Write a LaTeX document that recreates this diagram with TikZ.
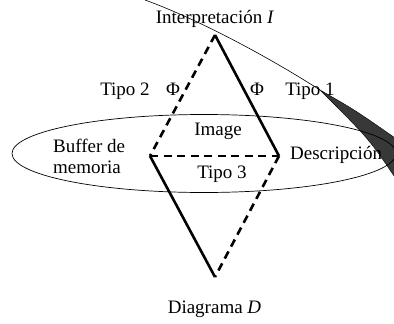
\documentclass[tikz,border=0pt]{standalone}
\usepackage{fontspec}
\setmainfont{Liberation Serif}
\begin{document}
\begin{tikzpicture}[x=1pt, y=-1pt, font=\fontsize{19}{21}\selectfont,
  lado/.style={line width=2.6pt},
  ladodash/.style={line width=2.6pt, dash pattern=on 8pt off 5.5pt},
  txt/.style={inner sep=0pt, anchor=base}]
  \useasboundingbox (0,0) rectangle (394,324);
  \clip (0,0) rectangle (394,324);

  % curva y cono
  \draw[line width=0.6pt] (145,0) .. controls (200,20) and (270,58) .. (320,90);
  \filldraw[fill=black!78, line width=0.4pt] (320,90) .. controls (355,110) .. (398,140)
    -- (398,182) .. controls (370,140) .. (320,90) -- cycle;

  % elipse
  \draw[line width=0.7pt] (204,153.5) ellipse [x radius=192, y radius=39];

  % vertices
  \coordinate (I) at (215,35);
  \coordinate (B) at (150,156);
  \coordinate (R) at (279,156);
  \coordinate (D) at (215,277);

  % lados
  \draw[ladodash] (I) -- (B);
  \draw[lado] (I) -- (R);
  \draw[ladodash] (B) -- (R);
  \draw[lado] (B) -- (D);
  \draw[ladodash] (R) -- (D);

  % textos
  \node[txt] (interp) at (215,23.5) {Interpretación \textit{I}};
  \node[txt] (tipo2) at (125,95) {Tipo 2};
  \node[txt] (phi2) at (173,95) {Φ};
  \node[txt] (phi1) at (257,95) {Φ};
  \node[txt] (tipo1) at (310,95) {Tipo 1};
  \node[txt] (image) at (218,135) {Image};
  \node[txt, anchor=base west, align=left] (buffer) at (53,173) {Buffer de\\memoria};
  \node[txt, anchor=base west] (desc) at (290,159) {Descripción};
  \node[txt] (tipo3) at (222,178) {Tipo 3};
  \node[txt] (diag) at (214.5,313) {Diagrama \textit{D}};
\end{tikzpicture}
\end{document}
